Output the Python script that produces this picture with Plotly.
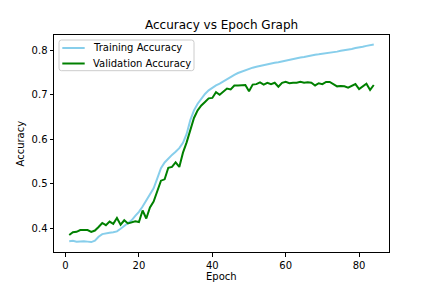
import plotly.graph_objects as go

epochs = list(range(1, 85))
train_acc = [0.371, 0.372, 0.370, 0.371, 0.371, 0.370, 0.369, 0.372, 0.381, 0.387,
             0.389, 0.390, 0.391, 0.393, 0.399, 0.405, 0.410, 0.418, 0.428, 0.437,
             0.449, 0.463, 0.476, 0.490, 0.512, 0.535, 0.548, 0.557, 0.565, 0.572,
             0.580, 0.592, 0.612, 0.643, 0.665, 0.680, 0.692, 0.702, 0.710, 0.716,
             0.721, 0.725, 0.730, 0.736, 0.741, 0.745, 0.749, 0.752, 0.756, 0.759,
             0.761, 0.763, 0.765, 0.767, 0.769, 0.771, 0.772, 0.773, 0.775, 0.776,
             0.778, 0.780, 0.782, 0.784, 0.785, 0.787, 0.788, 0.790, 0.791, 0.792,
             0.794, 0.795, 0.796, 0.797, 0.799, 0.800, 0.802, 0.803, 0.805, 0.806,
             0.808, 0.810, 0.811, 0.813]
val_acc = [0.385, 0.391, 0.392, 0.396, 0.396, 0.396, 0.392, 0.395, 0.403, 0.412,
           0.407, 0.415, 0.410, 0.423, 0.408, 0.418, 0.411, 0.413, 0.416, 0.414,
           0.440, 0.422, 0.447, 0.460, 0.483, 0.507, 0.510, 0.536, 0.538, 0.548,
           0.538, 0.570, 0.593, 0.620, 0.648, 0.665, 0.676, 0.684, 0.692, 0.693,
           0.706, 0.700, 0.706, 0.714, 0.712, 0.721, 0.721, 0.721, 0.722, 0.708,
           0.723, 0.724, 0.728, 0.723, 0.727, 0.724, 0.727, 0.718, 0.727, 0.729,
           0.726, 0.727, 0.727, 0.729, 0.727, 0.728, 0.727, 0.721, 0.726, 0.724,
           0.729, 0.729, 0.723, 0.719, 0.720, 0.719, 0.716, 0.720, 0.724, 0.713,
           0.719, 0.725, 0.711, 0.722]
series_names = ["Training Accuracy", "Validation Accuracy"]
series_colors = ["#87CEEB", "#008000"]
x_ticks = [0, 20, 40, 60, 80]
y_ticks = [0.4, 0.5, 0.6, 0.7, 0.8]

font = "DejaVu Sans"
W, H = 432, 288
L, R, T, B = 54, 43, 35, 36
pw, ph = W - L - R, H - T - B


def px(xp):
    return (xp - L) / pw


def py(yp):
    return (H - B - yp) / ph


fig = go.Figure()
for name, color, ys in zip(series_names, series_colors, [train_acc, val_acc]):
    fig.add_trace(go.Scatter(x=epochs, y=ys, mode="lines", name=name,
                             line=dict(color=color, width=2), showlegend=False))

axis_common = dict(showgrid=False, zeroline=False, showline=True, linecolor="black",
                   linewidth=1, mirror=True, ticks="outside", ticklen=3.5,
                   tickcolor="black", tickwidth=0.8, automargin=False,
                   tickfont=dict(family=font, size=10, color="black"))

# legend drawn manually (matplotlib style)
bx0, bx1, by0, by1, r = px(59), px(194), py(70.7), py(40), 2.5
rx, ry = r / pw, r / ph
path = (f"M {bx0+rx},{by1} L {bx1-rx},{by1} Q {bx1},{by1} {bx1},{by1-ry} "
        f"L {bx1},{by0+ry} Q {bx1},{by0} {bx1-rx},{by0} L {bx0+rx},{by0} "
        f"Q {bx0},{by0} {bx0},{by0+ry} L {bx0},{by1-ry} Q {bx0},{by1} {bx0+rx},{by1} Z")
shapes = [dict(type="path", path=path, xref="paper", yref="paper",
               line=dict(color="#cccccc", width=1), fillcolor="rgba(255,255,255,0.8)",
               layer="above")]
annotations = []
for i, (name, color) in enumerate(zip(series_names, series_colors)):
    yy = py(48 + i * 15.5)
    shapes.append(dict(type="line", xref="paper", yref="paper", x0=px(62.3), x1=px(84.7),
                       y0=yy, y1=yy, line=dict(color=color, width=2), layer="above"))
    annotations.append(dict(text=name, xref="paper", yref="paper", x=px(91.3), y=yy,
                            xanchor="left", yanchor="middle", showarrow=False,
                            font=dict(family=font, size=10, color="black")))

# titles
annotations.append(dict(text="Accuracy vs Epoch Graph", xref="paper", yref="paper",
                        x=px(221.5), y=py(25), xanchor="center", yanchor="middle",
                        showarrow=False, font=dict(family=font, size=12, color="black")))
annotations.append(dict(text="Epoch", xref="paper", yref="paper",
                        x=px(221.5), y=py(276), xanchor="center", yanchor="middle",
                        showarrow=False, font=dict(family=font, size=10, color="black")))
annotations.append(dict(text="Accuracy", xref="paper", yref="paper", textangle=-90,
                        x=px(20), y=py(143.5), xanchor="center", yanchor="middle",
                        showarrow=False, font=dict(family=font, size=10, color="black")))

fig.update_layout(
    width=W, height=H,
    margin=dict(l=L, r=R, t=T, b=B),
    paper_bgcolor="white", plot_bgcolor="white",
    xaxis=dict(range=[-3.15, 88.15], tickvals=x_ticks, **axis_common),
    yaxis=dict(range=[0.3467, 0.8344], tickvals=y_ticks, tickformat=".1f", **axis_common),
    shapes=shapes,
    annotations=annotations,
    showlegend=False,
)

fig.write_html("out.html")
